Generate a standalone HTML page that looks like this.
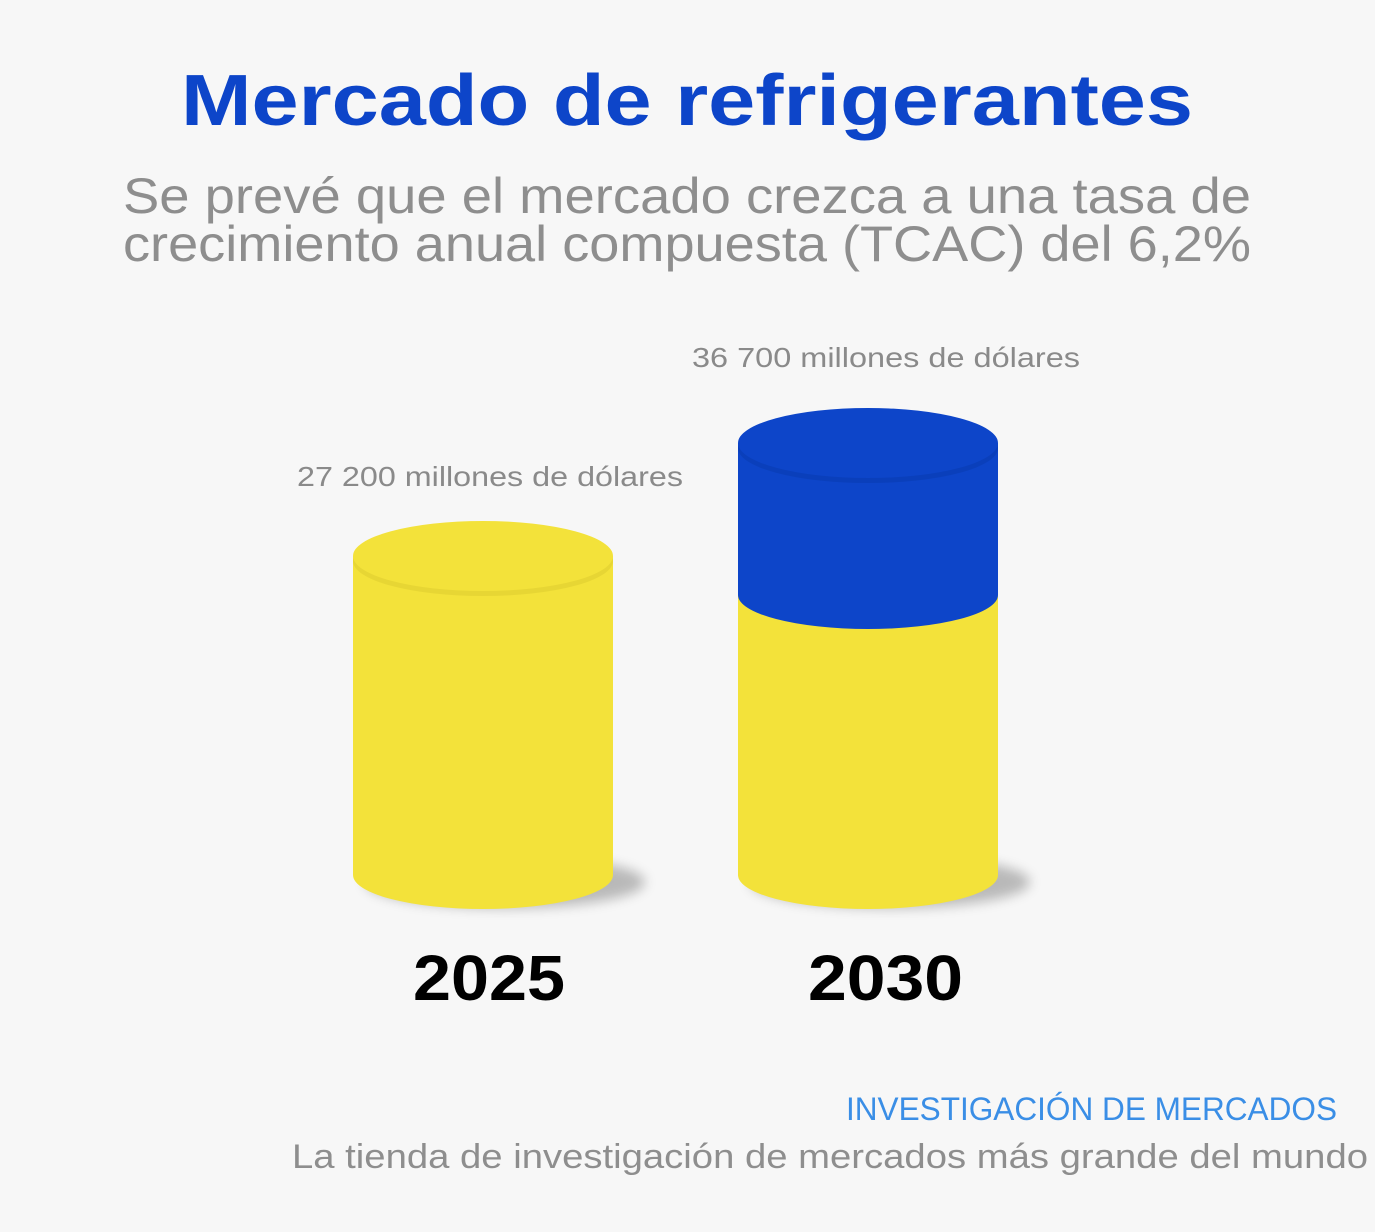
<!DOCTYPE html>
<html><head><meta charset="utf-8"><style>html,body{margin:0;padding:0;background:#f7f7f7}</style></head>
<body>
<svg width="1375" height="1227" viewBox="0 0 1375 1227" xmlns="http://www.w3.org/2000/svg" font-family="Liberation Sans, sans-serif">
<defs>
<filter id="sh" x="-20%" y="-50%" width="140%" height="200%"><feGaussianBlur stdDeviation="6"/></filter>
</defs>
<rect width="1375" height="1227" fill="#f7f7f7"/>
<text x="181" y="125" font-size="72" font-weight="bold" fill="#0d45c9" textLength="1012" lengthAdjust="spacingAndGlyphs">Mercado de refrigerantes</text>
<text x="123" y="213" font-size="50" fill="#8e8e8e" textLength="1128" lengthAdjust="spacingAndGlyphs">Se prevé que el mercado crezca a una tasa de</text>
<text x="123" y="261" font-size="50" fill="#8e8e8e" textLength="1128" lengthAdjust="spacingAndGlyphs">crecimiento anual compuesta (TCAC) del 6,2%</text>
<text x="297" y="486" font-size="28" fill="#8a8a8a" textLength="386" lengthAdjust="spacingAndGlyphs">27 200 millones de dólares</text>
<text x="692" y="367" font-size="28" fill="#8a8a8a" textLength="388" lengthAdjust="spacingAndGlyphs">36 700 millones de dólares</text>
<!-- shadows -->
<ellipse cx="505" cy="882" rx="140" ry="26" fill="#000" opacity="0.25" filter="url(#sh)"/>
<ellipse cx="890" cy="882" rx="140" ry="26" fill="#000" opacity="0.25" filter="url(#sh)"/>
<!-- cylinder 1 -->
<path d="M353 556 L353 875 A130 34 0 0 0 613 875 L613 556 Z" fill="#f3e23a"/>
<ellipse cx="483" cy="561" rx="130" ry="35" fill="#e0cf30" opacity="0.6"/>
<ellipse cx="483" cy="556" rx="130" ry="35" fill="#f3e23a"/>
<!-- cylinder 2 -->
<path d="M738 595 L738 875 A130 34 0 0 0 998 875 L998 595 Z" fill="#f3e23a"/>
<path d="M738 443 L738 595 A130 34 0 0 0 998 595 L998 443 Z" fill="#0d45c9"/>
<ellipse cx="868" cy="448" rx="130" ry="35" fill="#0a3db5" opacity="0.7"/>
<ellipse cx="868" cy="443" rx="130" ry="35" fill="#0d45c9"/>
<text x="413" y="1000" font-size="64" font-weight="bold" fill="#000" textLength="152" lengthAdjust="spacingAndGlyphs">2025</text>
<text x="808" y="1000" font-size="64" font-weight="bold" fill="#000" textLength="155" lengthAdjust="spacingAndGlyphs">2030</text>
<text x="846" y="1120" font-size="32" fill="#3a8ee6" textLength="491" lengthAdjust="spacingAndGlyphs">INVESTIGACIÓN DE MERCADOS</text>
<text x="292" y="1168" font-size="34" fill="#8e8e8e" textLength="1076" lengthAdjust="spacingAndGlyphs">La tienda de investigación de mercados más grande del mundo</text>
</svg>
</body></html>
